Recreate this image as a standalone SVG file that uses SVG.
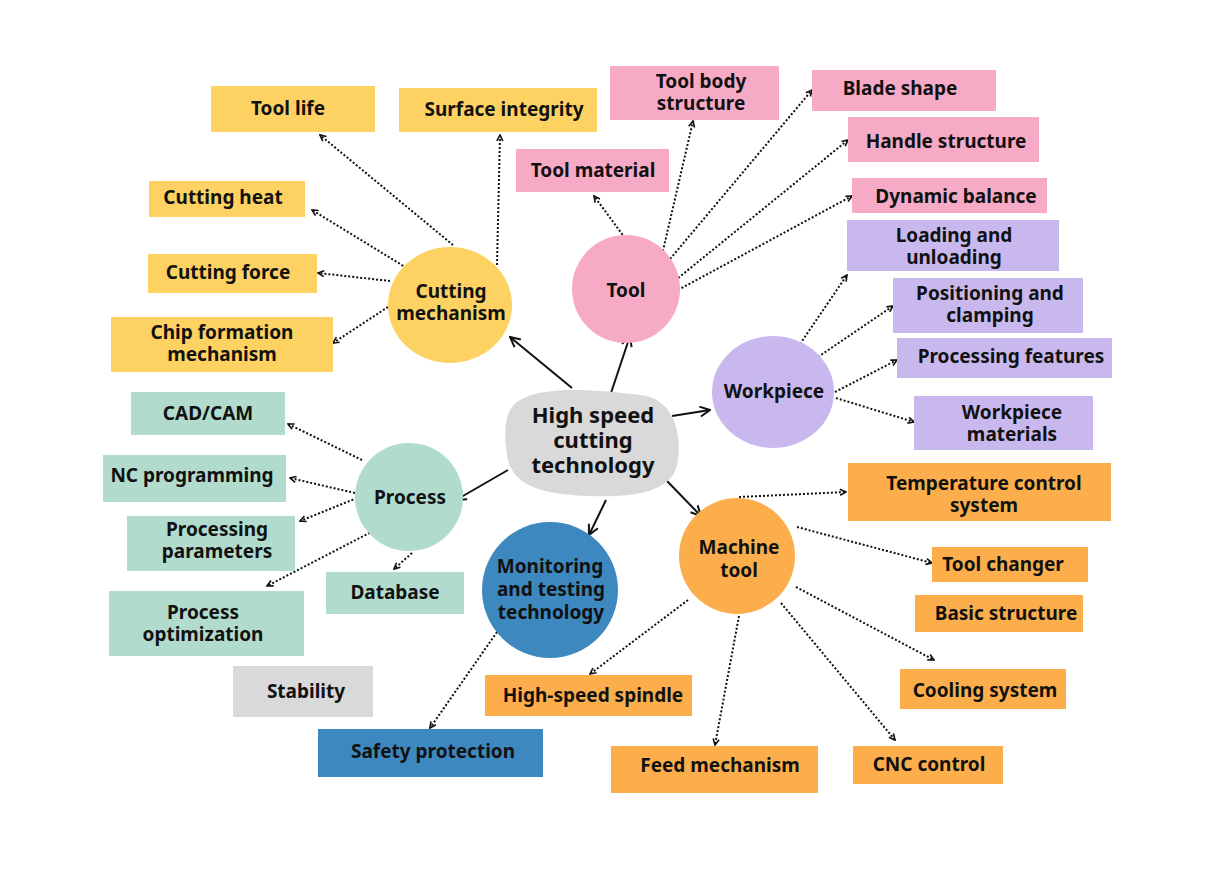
<svg xmlns="http://www.w3.org/2000/svg" width="1213" height="881" viewBox="0 0 1213 881">
<defs>
<style>
text{font-family:"Noto Sans","Lato","Liberation Sans",sans-serif;font-weight:700;font-size:19px;fill:#111;text-anchor:middle;dominant-baseline:central}
.big{font-size:22px}
.y{fill:#fdd262}.p{fill:#f7aac6}.v{fill:#c9b8ee}.g{fill:#b1dccd}.o{fill:#fdae4c}.b{fill:#3e88c0}.gr{fill:#d9d9d9}
.s{stroke:#111;stroke-width:2;fill:none;marker-end:url(#ah)}
.d{stroke:#111;stroke-width:2;stroke-dasharray:2 2;fill:none;marker-end:url(#ad)}
</style>
<marker id="ah" viewBox="0 0 12 12" refX="11" refY="6" markerWidth="12" markerHeight="12" markerUnits="userSpaceOnUse" orient="auto"><path d="M1,1 L11,6 L1,11" fill="none" stroke="#111" stroke-width="2"/></marker>
<marker id="ad" viewBox="0 0 8 8" refX="7" refY="4" markerWidth="8" markerHeight="8" markerUnits="userSpaceOnUse" orient="auto"><path d="M1,1 L7,4 L1,7" fill="none" stroke="#111" stroke-width="1.6"/></marker>
</defs>
<rect width="1213" height="881" fill="#fff"/>
<g id="connectors">
<line class="s" x1="572" y1="388" x2="510" y2="337"/>
<line class="s" x1="611" y1="393" x2="630" y2="336"/>
<line class="s" x1="672" y1="416" x2="710" y2="410"/>
<line class="s" x1="508" y1="470" x2="456" y2="500"/>
<line class="s" x1="606" y1="500" x2="589" y2="535"/>
<line class="s" x1="667" y1="481" x2="701" y2="516"/>
<line class="d" x1="453" y1="245" x2="320" y2="135"/>
<line class="d" x1="497" y1="265" x2="500" y2="135"/>
<line class="d" x1="410" y1="270" x2="312" y2="210"/>
<line class="d" x1="390" y1="281" x2="318" y2="273"/>
<line class="d" x1="388" y1="307" x2="333" y2="343"/>
<line class="d" x1="625" y1="238" x2="594" y2="196"/>
<line class="d" x1="662" y1="255" x2="693" y2="121"/>
<line class="d" x1="665" y1="265" x2="812" y2="90"/>
<line class="d" x1="672" y1="283" x2="848" y2="140"/>
<line class="d" x1="678" y1="290" x2="852" y2="196"/>
<line class="d" x1="800" y1="344" x2="847" y2="275"/>
<line class="d" x1="818" y1="357" x2="893" y2="306"/>
<line class="d" x1="835" y1="392" x2="897" y2="360"/>
<line class="d" x1="836" y1="398" x2="914" y2="422"/>
<line class="d" x1="362" y1="460" x2="288" y2="424"/>
<line class="d" x1="355" y1="493" x2="290" y2="478"/>
<line class="d" x1="357" y1="498" x2="300" y2="521"/>
<line class="d" x1="377" y1="529" x2="267" y2="586"/>
<line class="d" x1="412" y1="553" x2="394" y2="569"/>
<line class="d" x1="497" y1="632" x2="430" y2="728"/>
<line class="d" x1="739" y1="497" x2="846" y2="492"/>
<line class="d" x1="797" y1="527" x2="932" y2="563"/>
<line class="d" x1="796" y1="587" x2="934" y2="660"/>
<line class="d" x1="781" y1="603" x2="895" y2="740"/>
<line class="d" x1="739" y1="616" x2="715" y2="745"/>
<line class="d" x1="688" y1="600" x2="590" y2="674"/>
</g>
<g id="center">
<path d="M520,400 C545,385 600,390 640,395 C672,398 682,430 678,460 C675,490 640,498 590,496 C545,494 512,488 507,455 C503,428 505,408 520,400 Z" class="gr"/>
<text class="big" x="593" y="414">High speed</text>
<text class="big" x="593" y="439">cutting</text>
<text class="big" x="593" y="464">technology</text>
</g>
<g id="cutting-mechanism"><ellipse class="y" cx="450" cy="305" rx="62" ry="58"/><text x="451" y="291">Cutting</text><text x="451" y="313">mechanism</text></g>
<g id="tool-life"><rect class="y" x="211" y="86" width="164" height="46"/><text x="288" y="108">Tool life</text></g>
<g id="surface-integrity"><rect class="y" x="399" y="88" width="198" height="44"/><text x="504" y="109">Surface integrity</text></g>
<g id="cutting-heat"><rect class="y" x="149" y="181" width="156" height="36"/><text x="223" y="197">Cutting heat</text></g>
<g id="cutting-force"><rect class="y" x="148" y="254" width="169" height="39"/><text x="228" y="272">Cutting force</text></g>
<g id="chip-formation"><rect class="y" x="111" y="317" width="222" height="55"/><text x="222" y="332">Chip formation</text><text x="222" y="354">mechanism</text></g>
<g id="tool"><circle class="p" cx="626" cy="289" r="54"/><text x="626" y="290">Tool</text></g>
<g id="tool-body"><rect class="p" x="610" y="66" width="169" height="54"/><text x="701" y="81">Tool body</text><text x="701" y="103">structure</text></g>
<g id="tool-material"><rect class="p" x="516" y="149" width="153" height="43"/><text x="593" y="170">Tool material</text></g>
<g id="blade-shape"><rect class="p" x="812" y="70" width="184" height="41"/><text x="900" y="88">Blade shape</text></g>
<g id="handle-structure"><rect class="p" x="848" y="117" width="191" height="45"/><text x="946" y="141">Handle structure</text></g>
<g id="dynamic-balance"><rect class="p" x="852" y="178" width="195" height="35"/><text x="956" y="196">Dynamic balance</text></g>
<g id="workpiece"><ellipse class="v" cx="773" cy="392" rx="61" ry="56"/><text x="774" y="391">Workpiece</text></g>
<g id="loading"><rect class="v" x="847" y="220" width="212" height="51"/><text x="954" y="235">Loading and</text><text x="954" y="257">unloading</text></g>
<g id="positioning"><rect class="v" x="893" y="278" width="190" height="55"/><text x="990" y="293">Positioning and</text><text x="990" y="315">clamping</text></g>
<g id="processing-features"><rect class="v" x="897" y="338" width="215" height="40"/><text x="1011" y="356">Processing features</text></g>
<g id="workpiece-materials"><rect class="v" x="914" y="396" width="179" height="54"/><text x="1012" y="412">Workpiece</text><text x="1012" y="434">materials</text></g>
<g id="process"><circle class="g" cx="409" cy="497" r="54"/><text x="410" y="497">Process</text></g>
<g id="cadcam"><rect class="g" x="131" y="392" width="154" height="43"/><text x="208" y="413">CAD/CAM</text></g>
<g id="nc-programming"><rect class="g" x="103" y="455" width="183" height="47"/><text x="192" y="475">NC programming</text></g>
<g id="processing-parameters"><rect class="g" x="127" y="516" width="168" height="55"/><text x="217" y="529">Processing</text><text x="217" y="551">parameters</text></g>
<g id="process-optimization"><rect class="g" x="109" y="591" width="195" height="65"/><text x="203" y="612">Process</text><text x="203" y="634">optimization</text></g>
<g id="database"><rect class="g" x="326" y="572" width="138" height="42"/><text x="395" y="592">Database</text></g>
<g id="stability"><rect class="gr" x="233" y="666" width="140" height="51"/><text x="306" y="691">Stability</text></g>
<g id="monitoring"><circle class="b" cx="550" cy="590" r="68"/><text x="550" y="566">Monitoring</text><text x="551" y="589">and testing</text><text x="551" y="612">technology</text></g>
<g id="safety"><rect class="b" x="318" y="729" width="225" height="48"/><text x="433" y="751">Safety protection</text></g>
<g id="machine-tool"><circle class="o" cx="737" cy="556" r="58"/><text x="739" y="547">Machine</text><text x="739" y="570">tool</text></g>
<g id="temperature"><rect class="o" x="848" y="463" width="263" height="58"/><text x="984" y="483">Temperature control</text><text x="984" y="505">system</text></g>
<g id="tool-changer"><rect class="o" x="932" y="547" width="156" height="35"/><text x="1003" y="564">Tool changer</text></g>
<g id="basic-structure"><rect class="o" x="915" y="595" width="168" height="37"/><text x="1006" y="613">Basic structure</text></g>
<g id="cooling"><rect class="o" x="900" y="669" width="166" height="40"/><text x="985" y="690">Cooling system</text></g>
<g id="cnc"><rect class="o" x="853" y="746" width="150" height="38"/><text x="929" y="764">CNC control</text></g>
<g id="feed"><rect class="o" x="611" y="746" width="207" height="47"/><text x="720" y="765">Feed mechanism</text></g>
<g id="spindle"><rect class="o" x="485" y="675" width="207" height="41"/><text x="593" y="695">High-speed spindle</text></g>
</svg>
